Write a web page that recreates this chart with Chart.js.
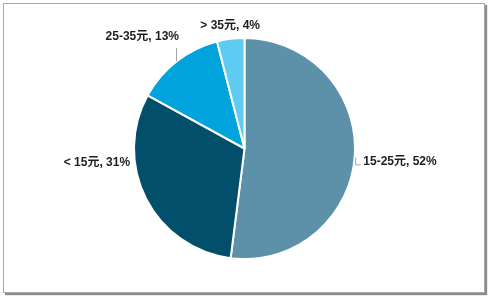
<!DOCTYPE html>
<html>
<head>
<meta charset="utf-8">
<script src="https://cdn.jsdelivr.net/npm/chart.js@4/dist/chart.umd.min.js"></script>
<style>
    body { margin: 0; background: #fff; }
    #wrap { position: relative; width: 489px; height: 296px; }
    #frame { position: absolute; left: 3px; top: 3px; width: 480px; height: 288px;
             border: 1px solid #a8a8a8; box-shadow: 2px 2px 1px #8c8c8c; }
    canvas { position: absolute; left: 0; top: 0; }
</style>
</head>
<body>
<div id="wrap">
    <div id="frame"></div>
    <canvas id="pieChart" width="489" height="296"></canvas>
</div>
<script>
// 价格区间与占比
const categories = ['15-25元', '< 15元', '25-35元', '> 35元'];
const shares = [52, 31, 13, 4];
const colors = ['#5d91aa', '#024f6c', '#00a3dc', '#60cbf2'];

// 标签相对圆心的位置（以半径为单位）及对齐方式
const labelPos = [
    { dx: 1.075, dy: 0.115, align: 'left' },
    { dx: -1.035, dy: 0.13, align: 'right' },
    { dx: -0.925, dy: -1.01, align: 'center' },
    { dx: -0.13, dy: -1.115, align: 'center' }
];

// 数据标签和引导线
const pieLabels = {
    id: 'pieLabels',
    afterDatasetsDraw(chart) {
        const ctx = chart.ctx;
        const arcs = chart.getDatasetMeta(0).data;
        ctx.save();
        ctx.font = 'bold 12px "Liberation Sans", "Noto Sans CJK SC", sans-serif';
        ctx.fillStyle = '#1e1e1e';
        ctx.textBaseline = 'middle';
        arcs.forEach((arc, i) => {
            const r = arc.outerRadius;
            const x = arc.x + labelPos[i].dx * r;
            const y = arc.y + labelPos[i].dy * r;
            ctx.textAlign = labelPos[i].align;
            ctx.fillText(categories[i] + ', ' + shares[i] + '%', x, y);
        });
        // 引导线
        ctx.strokeStyle = '#a6a6a6';
        ctx.lineWidth = 1;
        const a2 = arcs[2];
        const lx = Math.round(a2.x + labelPos[2].dx * a2.outerRadius + 34) + 0.5;
        const ly = a2.y - Math.sqrt(a2.outerRadius * a2.outerRadius - Math.pow(lx - a2.x, 2));
        ctx.beginPath();
        ctx.moveTo(lx, a2.y + labelPos[2].dy * a2.outerRadius + 11);
        ctx.lineTo(lx, ly);
        ctx.stroke();
        const a0 = arcs[0];
        const ex = a0.x + a0.outerRadius * Math.cos(0.08);
        const ey = a0.y + a0.outerRadius * Math.sin(0.08);
        ctx.beginPath();
        ctx.moveTo(ex + 1, ey);
        ctx.lineTo(ex + 1, ey + 7.5);
        ctx.lineTo(ex + 6, ey + 7.5);
        ctx.stroke();
        ctx.restore();
    }
};

const ctx = document.getElementById('pieChart').getContext('2d');
const pieChart = new Chart(ctx, {
    type: 'pie',
    data: {
        labels: categories,
        datasets: [{
            data: shares,
            backgroundColor: colors,
            borderColor: '#ffffff',
            borderWidth: 2
        }]
    },
    options: {
        responsive: false,
        animation: false,
        layout: {
            padding: { top: 37, bottom: 36, left: 133, right: 133 }
        },
        plugins: {
            legend: { display: false },
            tooltip: { enabled: false }
        }
    },
    plugins: [pieLabels]
});
</script>
</body>
</html>
